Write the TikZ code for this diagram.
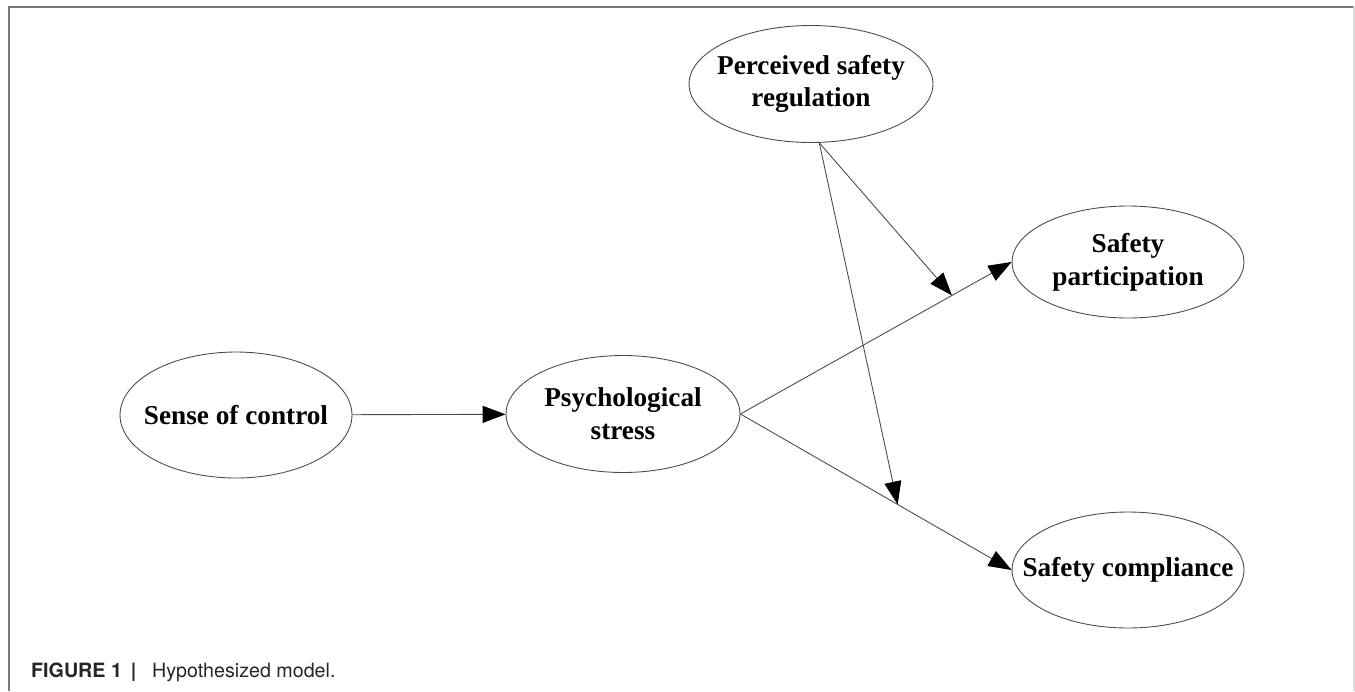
\documentclass[tikz,border=0pt]{standalone}
\usepackage{fontspec}
\setmainfont{Liberation Serif}
\newfontfamily\capfont{TeX Gyre Heros}
\usetikzlibrary{shapes.geometric,arrows.meta}

\begin{document}
\begin{tikzpicture}[x=0.02cm, y=-0.02cm,
  var/.style={ellipse, draw=lineGray, line width=0.5pt, inner xsep=-0.6cm, inner ysep=0pt,
    align=center, font=\fontsize{15.5}{18.6}\selectfont\bfseries},
  link/.style={draw=lineGray, line width=0.5pt, -{Triangle[length=0.46cm,width=0.34cm,color=black]}}]

% Colori
\definecolor{lineGray}{HTML}{4A4A4A}
\definecolor{frameGray}{HTML}{7A7A7A}
\definecolor{frameLight}{HTML}{DDDDDD}

\useasboundingbox (0,0) rectangle (1355,691);

% Cornice
\draw[frameGray, line width=1.1pt] (9,691) -- (9,7) -- (1354,7);
\draw[frameLight, line width=1.1pt] (1354,7) -- (1354,691);

% Variabili
\node[var, minimum width=4.64cm, minimum height=2.52cm] (soc) at (236,415) {Sense of control};
\node[var, minimum width=4.68cm, minimum height=2.34cm] (ps) at (623,414) {Psychological\\stress};
\node[var, minimum width=4.88cm, minimum height=2.34cm] (psr) at (811,84) {Perceived safety\\regulation};
\node[var, minimum width=4.64cm, minimum height=2.24cm] (sp) at (1128,262) {Safety\\participation};
\node[var, minimum width=4.64cm, minimum height=2.32cm] (sc) at (1128,570) {Safety compliance};

% Effetti diretti
\draw[link] (soc) -- (ps);
\draw[link] (ps.east) -- coordinate[pos=0.78] (m1) (sp.west);
\draw[link] (ps.east) -- coordinate[pos=0.58] (m2) (sc.west);

% Moderazione
\draw[link] (psr.-82) -- (m1);
\draw[link] (psr.-82) -- (m2);

% Didascalia
\node[anchor=base west, text=black!85, font=\capfont\fontsize{11.2}{13}\selectfont] (cap) at (25,677)
  {\textbf{FIGURE 1}\hspace{0.45em}\textbf{|}\hspace{0.8em}Hypothesized model.};

\end{tikzpicture}
\end{document}
